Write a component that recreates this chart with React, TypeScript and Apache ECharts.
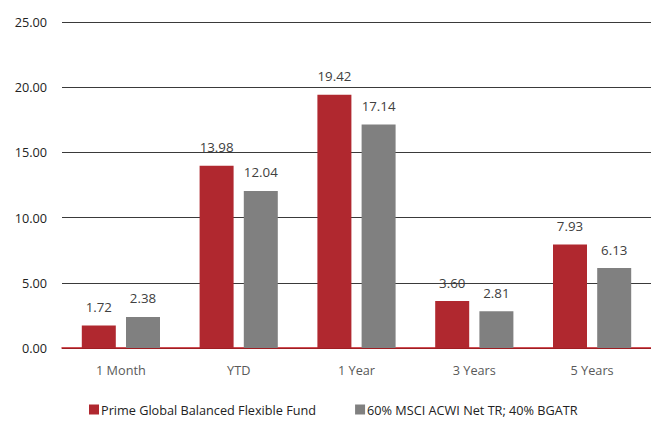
import React, { useEffect, useRef } from "react";
import * as echarts from "echarts";

const categories = ["1 Month", "YTD", "1 Year", "3 Years", "5 Years"];
const fundValues = [1.72, 13.98, 19.42, 3.6, 7.93];
const benchValues = [2.38, 12.04, 17.14, 2.81, 6.13];
const fundName = "Prime Global Balanced Flexible Fund";
const benchName = "60% MSCI ACWI Net TR; 40% BGATR";

export default function App() {
  const ref = useRef<HTMLDivElement>(null);
  useEffect(() => {
    const chart = echarts.init(ref.current!, null, { renderer: "svg" });
    const font = "'Open Sans', 'Noto Sans', sans-serif";
    chart.setOption({
      animation: false,
      textStyle: { fontFamily: font },
      grid: { left: 62, right: -1, top: 22, bottom: 73, containLabel: false },
      legend: {
        bottom: 0,
        left: 84,
        itemWidth: 10,
        itemHeight: 10,
        itemGap: 39,
        icon: "rect",
        textStyle: { fontSize: 12.7, color: "#222", fontFamily: font, padding: [0, 0, 0, -3] },
        data: [fundName, benchName],
      },
      xAxis: {
        type: "category",
        data: categories,
        axisLine: { lineStyle: { color: "#C0161C", width: 1.5 } },
        axisTick: { show: false },
        axisLabel: { color: "#595959", fontSize: 12.7, margin: 15, fontFamily: font },
      },
      yAxis: {
        type: "value",
        min: 0,
        max: 25,
        interval: 5,
        axisLine: { show: false },
        axisTick: { show: false },
        axisLabel: {
          color: "#222",
          fontSize: 12.7,
          margin: 15,
          fontFamily: font,
          formatter: (v: number) => v.toFixed(2),
        },
        splitLine: { lineStyle: { color: "#3a3a3a", width: 1 } },
      },
      series: [
        {
          name: fundName,
          type: "bar",
          data: fundValues,
          barWidth: 34,
          barGap: "30%",
          itemStyle: { color: "#B0282F" },
          label: {
            show: true,
            position: "top",
            distance: 12,
            color: "#404040",
            fontSize: 13.3,
            fontFamily: font,
            formatter: (p: any) => p.value.toFixed(2),
          },
        },
        {
          name: benchName,
          type: "bar",
          data: benchValues,
          barWidth: 34,
          itemStyle: { color: "#808080" },
          label: {
            show: true,
            position: "top",
            distance: 12,
            color: "#404040",
            fontSize: 13.3,
            fontFamily: font,
            formatter: (p: any) => p.value.toFixed(2),
          },
        },
      ],
    });
    return () => chart.dispose();
  }, []);
  return <div ref={ref} style={{ width: 651, height: 421, position: "absolute", left: 0, top: 0 }} />;
}
